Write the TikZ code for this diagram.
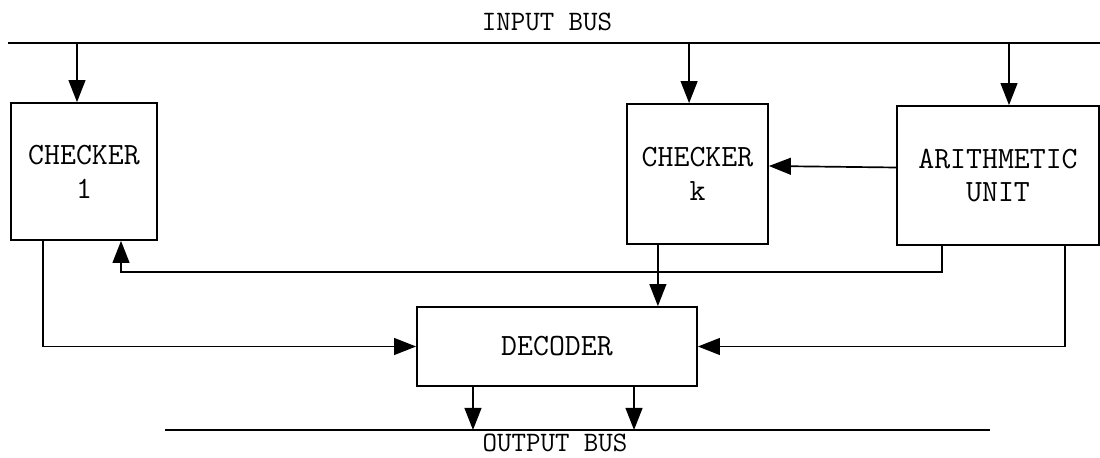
\documentclass[tikz,border=0pt]{standalone}
\usepackage{tikz}
\usetikzlibrary{arrows.meta}

\begin{document}
\begin{tikzpicture}[
    x=0.025cm, y=-0.025cm,
    % Bloques rectangulares con letra de máquina de escribir
    bloque/.style={draw=black, line width=1.2pt, align=center, inner sep=0pt, font=\fontsize{22}{24}\ttfamily},
    % Flechas con punta triangular rellena
    flecha/.style={-{Triangle[length=0.55cm, width=0.42cm]}, line width=1.2pt},
    bus/.style={line width=1.2pt},
    rotulo/.style={font=\fontsize{20}{24}\ttfamily, inner sep=0pt}
]
    \useasboundingbox (0,0) rectangle (1100,458);

    % --- BUSES ---
    \coordinate (ib1) at (8,43);
    \coordinate (ib2) at (1100,43);
    \coordinate (ob1) at (165,430);
    \coordinate (ob2) at (990,430);
    \draw[bus] (ib1) -- (ib2);
    \draw[bus] (ob1) -- (ob2);
    \node[rotulo] (inbus)  at (547,22)  {INPUT BUS};
    \node[rotulo] (outbus) at (555,443) {OUTPUT BUS};

    % --- BLOQUES ---
    \node[bloque, minimum width=3.65cm,  minimum height=3.425cm] (chk1) at (84,171.5)  {CHECKER\\1};
    \node[bloque, minimum width=3.525cm, minimum height=3.5cm]   (chkk) at (697.5,174) {CHECKER\\k};
    \node[bloque, minimum width=5.05cm,  minimum height=3.475cm] (alu)  at (998,175.5) {ARITHMETIC\\UNIT};
    \node[bloque, minimum width=7cm,     minimum height=1.975cm] (dec)  at (557,346.5) {DECODER};

    % --- ENTRADAS DESDE EL BUS ---
    \draw[flecha] ([xshift=-0.175cm]chk1.north |- ib1) -- ([xshift=-0.175cm]chk1.north);
    \draw[flecha] ([xshift=-0.21cm]chkk.north |- ib1) -- ([xshift=-0.21cm]chkk.north);
    \draw[flecha] ([xshift=0.275cm]alu.north |- ib1) -- ([xshift=0.275cm]alu.north);

    % --- CONEXIONES ENTRE BLOQUES ---
    \draw[flecha] ([yshift=0.2cm]alu.west) -- ([yshift=0.2cm]chkk.east);
    \draw[flecha] ([xshift=-1.4cm]alu.south) -- ++(0,26) -| ([xshift=0.925cm]chk1.south);
    \draw[flecha] ([xshift=-1.025cm]chk1.south) |- (dec.west);
    \draw[flecha] ([xshift=-0.99cm]chkk.south) -- ([xshift=-0.99cm]chkk.south |- dec.north);
    \draw[flecha] ([xshift=1.675cm]alu.south) |- (dec.east);

    % --- SALIDAS AL BUS ---
    \draw[flecha] ([xshift=-2.1cm]dec.south) -- ([xshift=-2.1cm]dec.south |- ob1);
    \draw[flecha] ([xshift=1.925cm]dec.south) -- ([xshift=1.925cm]dec.south |- ob1);

\end{tikzpicture}
\end{document}
